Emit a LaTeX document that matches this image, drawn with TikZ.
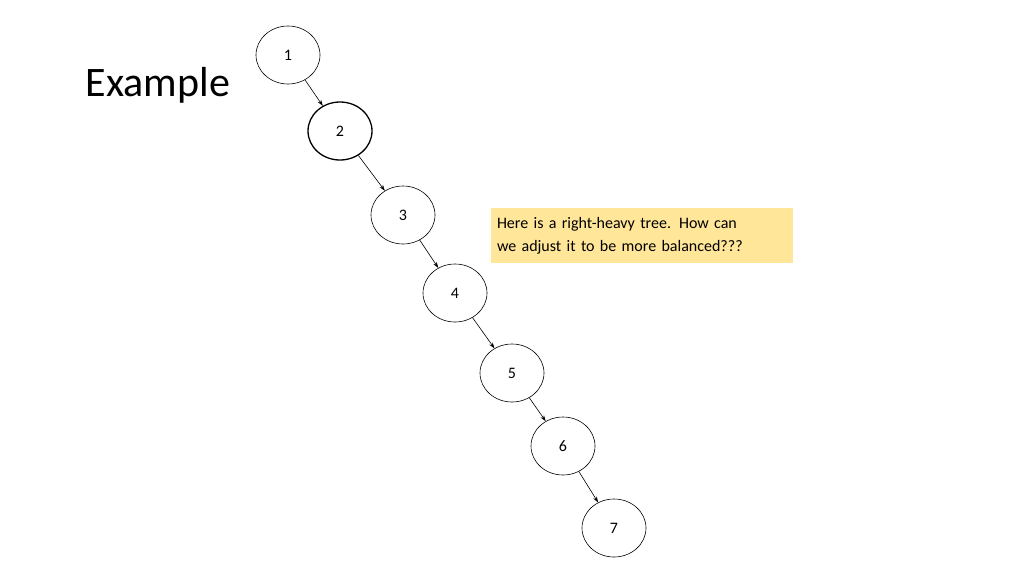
\documentclass[tikz,border=0pt]{standalone}
\usepackage{fontspec}
\setmainfont{Carlito}
\usetikzlibrary{shapes.geometric,arrows.meta}
\definecolor{note}{HTML}{FFE699}
\begin{document}
\begin{tikzpicture}[x=1pt,y=-1pt,
  tn/.style={ellipse,draw,line width=0.6pt,minimum width=64pt,minimum height=58pt,font=\fontsize{16}{19}\selectfont},
  ar/.style={-{Stealth[length=6pt,width=4pt]},line width=0.6pt}]
\useasboundingbox (0,0) rectangle (1024,576);
\node[anchor=center,font=\fontsize{42}{50}\selectfont] (title) at (158,85) {Example};
\node[tn] (n1) at (288,55) {1};
\node[tn,line width=1.3pt] (n2) at (340,131) {2};
\node[tn] (n3) at (403,215) {3};
\node[tn] (n4) at (455,293) {4};
\node[tn] (n5) at (512,373) {5};
\node[tn] (n6) at (563,446) {6};
\node[tn] (n7) at (614,528) {7};
\draw[ar] (n1) -- (n2);
\draw[ar] (n2) -- (n3);
\draw[ar] (n3) -- (n4);
\draw[ar] (n4) -- (n5);
\draw[ar] (n5) -- (n6);
\draw[ar] (n6) -- (n7);
\node[fill=note,minimum width=302pt,minimum height=55pt,text width=290pt,align=left,font=\fontsize{16}{23}\selectfont] (note) at (642,235.5) {Here is a right-heavy tree. How can\\we adjust it to be more balanced???};
\end{tikzpicture}
\end{document}
